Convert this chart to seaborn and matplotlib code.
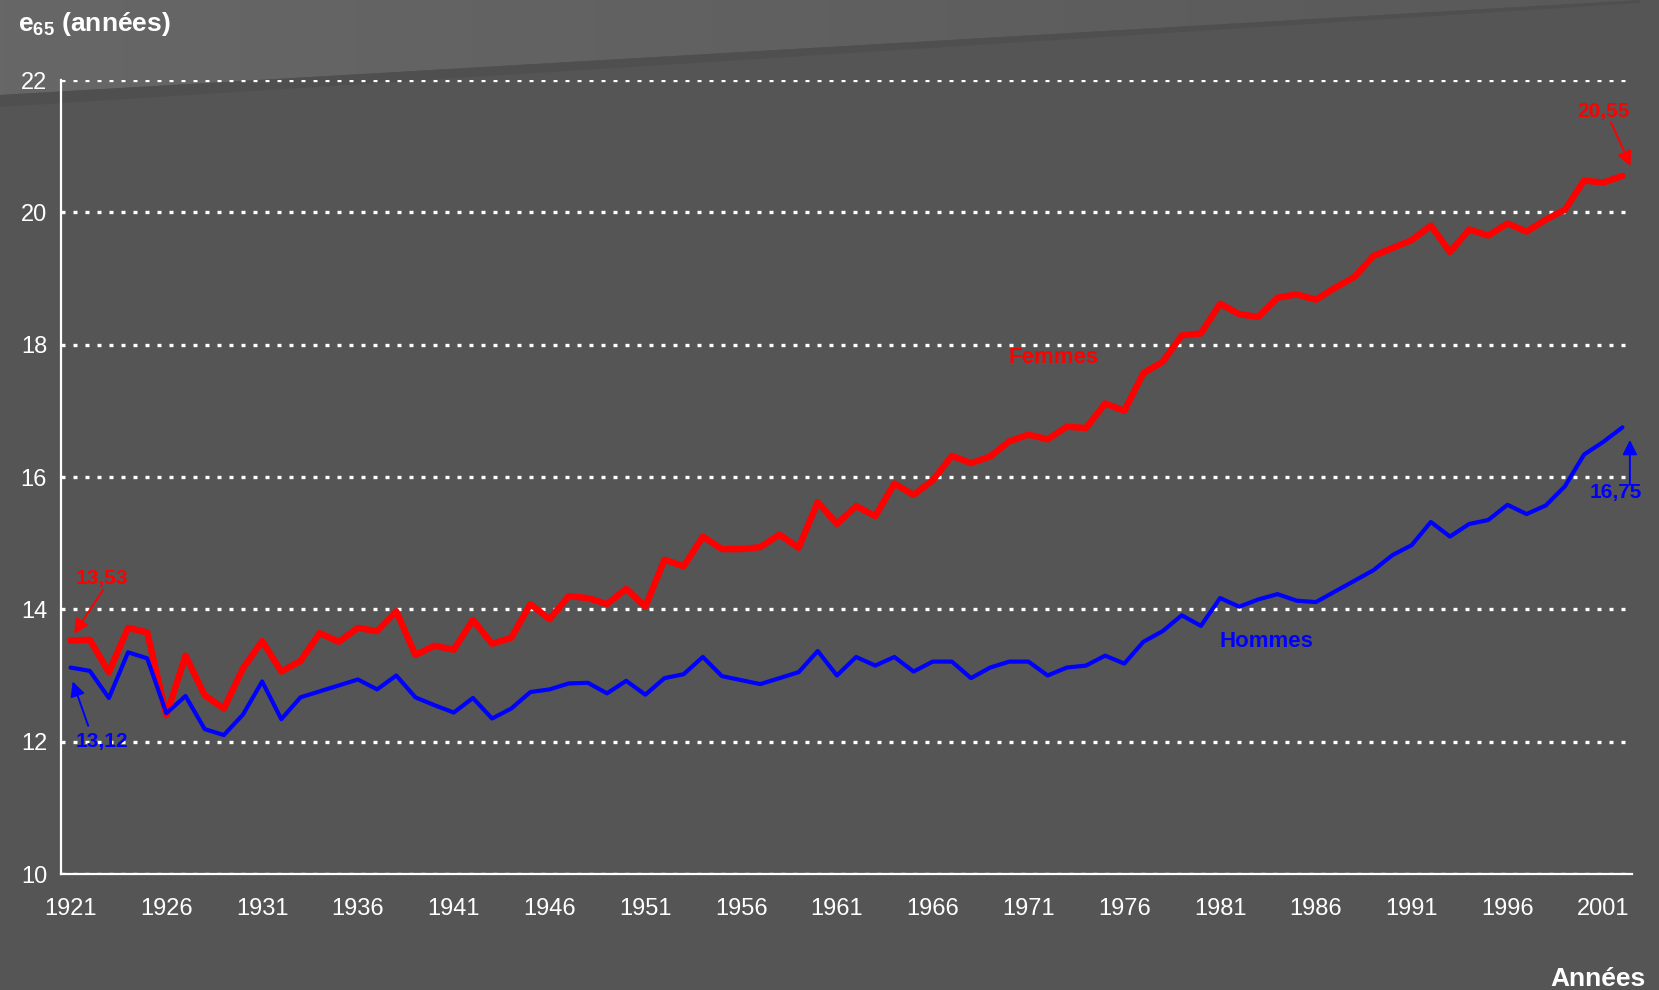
import numpy as np
import pandas as pd
import matplotlib
matplotlib.use("Agg")
import matplotlib.pyplot as plt
from matplotlib.patches import Polygon
import seaborn as sns

# ---------------- data ----------------
years = list(range(1921, 2003))
femmes = [13.53, 13.54, 13.05, 13.72, 13.65, 12.40, 13.30, 12.70, 12.50, 13.11,
          13.52, 13.06, 13.22, 13.64, 13.51, 13.72, 13.67, 13.97, 13.31, 13.45,
          13.39, 13.84, 13.48, 13.57, 14.08, 13.85, 14.20, 14.17, 14.08, 14.31,
          14.04, 14.75, 14.65, 15.10, 14.91, 14.91, 14.94, 15.13, 14.93, 15.62,
          15.29, 15.56, 15.41, 15.90, 15.73, 15.95, 16.32, 16.21, 16.31, 16.54,
          16.64, 16.57, 16.76, 16.74, 17.11, 17.00, 17.57, 17.74, 18.14, 18.17,
          18.62, 18.46, 18.42, 18.71, 18.76, 18.68, 18.86, 19.02, 19.34, 19.46,
          19.58, 19.80, 19.40, 19.74, 19.65, 19.83, 19.71, 19.89, 20.04, 20.48,
          20.45, 20.55]
hommes = [13.12, 13.07, 12.66, 13.35, 13.26, 12.43, 12.69, 12.19, 12.10, 12.41,
          12.91, 12.34, 12.67, 12.76, 12.85, 12.94, 12.79, 13.00, 12.67, 12.55,
          12.44, 12.66, 12.35, 12.50, 12.75, 12.79, 12.88, 12.89, 12.73, 12.92,
          12.71, 12.96, 13.02, 13.28, 12.99, 12.93, 12.87, 12.96, 13.05, 13.37,
          13.00, 13.28, 13.15, 13.28, 13.06, 13.21, 13.21, 12.96, 13.12, 13.21,
          13.21, 13.00, 13.12, 13.15, 13.30, 13.18, 13.51, 13.67, 13.91, 13.75,
          14.17, 14.04, 14.15, 14.23, 14.13, 14.11, 14.27, 14.43, 14.59, 14.82,
          14.97, 15.32, 15.10, 15.29, 15.35, 15.58, 15.44, 15.57, 15.86, 16.34,
          16.53, 16.75]
tick_years = list(range(1921, 2002, 5))
y_ticks = [10, 12, 14, 16, 18, 20, 22]
series_names = ["Femmes", "Hommes"]
title_text = "e$_{65}$ (années)"
xlabel_text = "Années"

# ---------------- style ----------------
sns.set_style("white")
plt.rcParams["font.family"] = ["Liberation Sans", "DejaVu Sans"]
plt.rcParams["mathtext.fontset"] = "custom"
plt.rcParams["mathtext.rm"] = "Liberation Sans:bold"
plt.rcParams["mathtext.bf"] = "Liberation Sans:bold"
plt.rcParams["mathtext.it"] = "Liberation Sans:bold"
plt.rcParams["mathtext.default"] = "bf"

BG = "#555555"
fig = plt.figure(figsize=(16.59, 9.9), dpi=100, facecolor=BG)

W, H = 1659.0, 990.0
def fpt(px, py):
    return (px / W, 1 - py / H)

# background: lighter slanted band at the top with a horizontal fade
bg_ax = fig.add_axes([0, 0, 1, 1], zorder=-5)
bg_ax.set_axis_off()
bg_ax.set_xlim(0, 1)
bg_ax.set_ylim(0, 1)
grad = np.linspace(0, 1, 256).reshape(1, -1)
from matplotlib.colors import LinearSegmentedColormap
cmap = LinearSegmentedColormap.from_list("bg", ["#676767", "#606060", "#595959"])
im = bg_ax.imshow(grad, cmap=cmap, extent=[0, 1, 0, 1], aspect="auto",
                  transform=bg_ax.transAxes)
band = Polygon([fpt(0, 0), fpt(1640, 0), fpt(0, 95)], closed=True,
               transform=bg_ax.transAxes, facecolor="none", edgecolor="none")
bg_ax.add_patch(band)
im.set_clip_path(band)
bg_ax.add_patch(Polygon([fpt(0, 95), fpt(1640, 0), fpt(1640, 3), fpt(0, 107)],
                        closed=True, transform=bg_ax.transAxes,
                        facecolor="#4f4f4f", edgecolor="none"))

ax = fig.add_axes([0.03677, 0.11717, 0.98372 - 0.03677, 0.91919 - 0.11717],
                  zorder=1)
ax.set_facecolor("none")

df = pd.DataFrame({"year": years, "Femmes": femmes, "Hommes": hommes})
sns.lineplot(data=df, x="year", y="Femmes", color="#FF0000", linewidth=4.6,
             ax=ax, legend=False, zorder=3)
sns.lineplot(data=df, x="year", y="Hommes", color="#0000FF", linewidth=3.0,
             ax=ax, legend=False, zorder=4)

ax.set_xlim(years[0] - 0.5, years[-1] + 0.5)
ax.set_ylim(y_ticks[0], y_ticks[-1])
ax.set_xlabel("")
ax.set_ylabel("")

for s in ["top", "right"]:
    ax.spines[s].set_visible(False)
for s in ["left", "bottom"]:
    ax.spines[s].set_color("white")
    ax.spines[s].set_linewidth(1.6)
    ax.spines[s].set_zorder(5)

ax.set_xticks(tick_years, labels=[str(y) for y in tick_years])
ax.set_xticks([y - 0.5 for y in tick_years], minor=True)
ax.tick_params(axis="x", which="major", length=0, pad=17, labelsize=17,
               labelcolor="white")
ax.tick_params(axis="x", which="minor", length=13, width=1.4,
               direction="inout", color="white")
ax.set_yticks(y_ticks, labels=[str(v) for v in y_ticks])
ax.tick_params(axis="y", which="major", length=12, width=1.4, direction="inout",
               color="white", labelsize=17, labelcolor="white", pad=4)

ax.set_axisbelow(True)
ax.yaxis.grid(True, color="white", linestyle=(0, (1.2, 2.4)), linewidth=2.4)
ax.xaxis.grid(False)

ax.text(1972.3, 17.80, series_names[0], color="#FF0000", fontsize=16,
        fontweight="bold", ha="center", va="center")
ax.text(1983.4, 13.52, series_names[1], color="#0000FF", fontsize=16,
        fontweight="bold", ha="center", va="center")

def fmt(v):
    return f"{v:.2f}".replace(".", ",")

arrow_kw = dict(arrowstyle="-|>", lw=1.4, mutation_scale=22, shrinkA=0, shrinkB=0)

ax.text(years[0] + 1.62, femmes[0] + 0.93, fmt(femmes[0]), color="#FF0000",
        fontsize=15, fontweight="bold", ha="center", va="center")
ax.annotate("", xy=(years[0] + 0.18, femmes[0] + 0.10),
            xytext=(years[0] + 1.71, femmes[0] + 0.77),
            arrowprops=dict(color="#FF0000", **arrow_kw))
ax.text(years[0] + 1.62, hommes[0] - 1.12, fmt(hommes[0]), color="#0000FF",
        fontsize=15, fontweight="bold", ha="center", va="center")
ax.annotate("", xy=(years[0] + 0.11, hommes[0] - 0.21),
            xytext=(years[0] + 0.92, hommes[0] - 0.88),
            arrowprops=dict(color="#0000FF", **arrow_kw))

ax.text(years[-1] - 0.98, femmes[-1] + 0.97, fmt(femmes[-1]), color="#FF0000",
        fontsize=15, fontweight="bold", ha="center", va="center")
ax.annotate("", xy=(years[-1] + 0.42, femmes[-1] + 0.15),
            xytext=(years[-1] - 0.61, femmes[-1] + 0.82),
            arrowprops=dict(color="#FF0000", **arrow_kw))
ax.text(years[-1] - 0.36, hommes[-1] - 0.99, fmt(hommes[-1]), color="#0000FF",
        fontsize=15, fontweight="bold", ha="center", va="center")
ax.annotate("", xy=(years[-1] + 0.39, hommes[-1] - 0.19),
            xytext=(years[-1] + 0.39, hommes[-1] - 0.87),
            arrowprops=dict(color="#0000FF", **arrow_kw))

fig.text(18 / W, 1 - 30.7 / H, title_text, color="white", fontsize=19,
         fontweight="bold", ha="left", va="baseline", zorder=10)
fig.text(1646 / W, 1 - 985.7 / H, xlabel_text, color="white", fontsize=19,
         fontweight="bold", ha="right", va="baseline", zorder=10)

fig.savefig("out.png", dpi=100, facecolor=BG)
